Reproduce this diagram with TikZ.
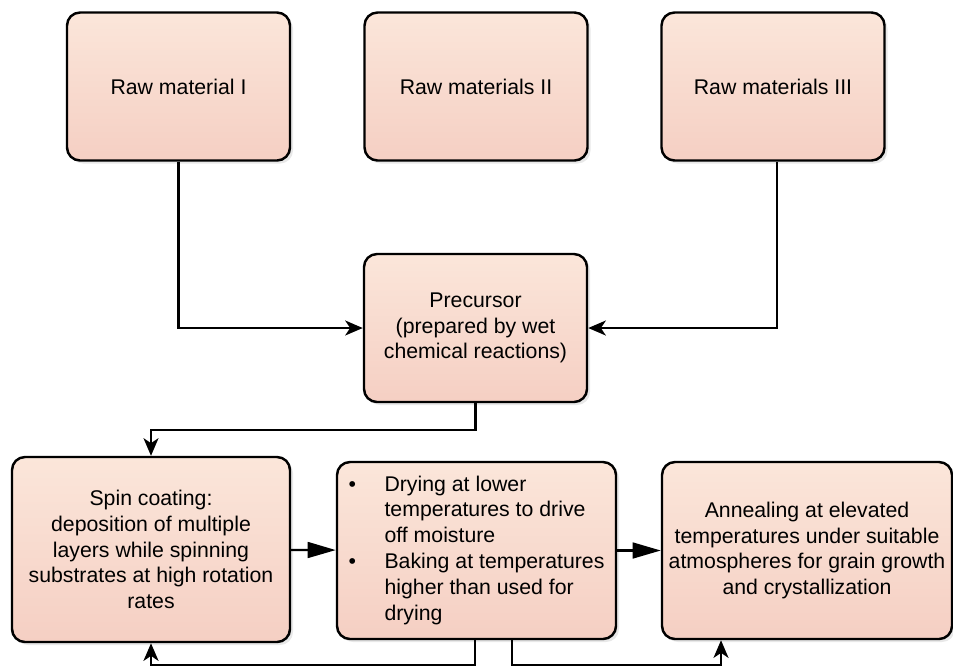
\documentclass[tikz,border=0pt]{standalone}
\usepackage{fontspec}
\setmainfont{Liberation Sans}
\usepackage{array}
\usetikzlibrary{arrows.meta,shadows}
\newcommand{\boxw}{4.46cm}
\newcommand{\boxh}{2.96cm}
\newcommand{\bullsep}{0.72cm}

\begin{document}
\begin{tikzpicture}
                %\draw[help lines] (0,-14) grid (20,0);
                \useasboundingbox (0,0) rectangle (19.06,-13.3);
                \tikzset{stepbox/.style = {draw=black, line width=1.4pt, rounded corners=0.26cm,
                                top color=boxtop, bottom color=boxbottom, align=center,
                                inner sep=2pt, font=\fontsize{12.1}{14.7}\selectfont,
                                drop shadow={shadow xshift=0.06cm, shadow yshift=-0.06cm, fill=black!18}},
                        link/.style = {draw=black, line width=1.3pt, -{Stealth[length=10pt,width=8.5pt,inset=2.8pt]}},
                        flow/.style = {draw=black, line width=1.3pt, -{Triangle[length=16pt,width=9pt]}}}
                \definecolor{boxtop}{HTML}{FBE6DA}
                \definecolor{boxbottom}{HTML}{F5CFC3}
                % raw materials
                \node[stepbox, minimum width=\boxw, minimum height=\boxh] (rawA) at (3.57,-1.73) {Raw material I};
                \node[stepbox, minimum width=\boxw, minimum height=\boxh] (rawB) at (9.52,-1.73) {Raw materials II};
                \node[stepbox, minimum width=\boxw, minimum height=\boxh] (rawC) at (15.46,-1.73) {Raw materials III};
                \node[stepbox, minimum width=\boxw, minimum height=\boxh] (prec) at (9.51,-6.56)
                        {Precursor\\(prepared by wet\\chemical reactions)};
                % processing steps
                \node[stepbox, minimum width=5.56cm, minimum height=3.7cm] (spin) at (3.02,-10.99)
                        {Spin coating:\\deposition of multiple\\layers while spinning\\substrates at high rotation\\rates};
                \node[stepbox, minimum width=5.58cm, minimum height=3.54cm] (dry) at (9.53,-11.01)
                        {\begin{tabular}{@{}p{\bullsep}@{}l@{}}
                        \textbullet & Drying at lower\\
                         & temperatures to drive\\
                         & off moisture\\
                        \textbullet & Baking at temperatures\\
                         & higher than used for\\
                         & drying
                        \end{tabular}};
                \node[stepbox, minimum width=5.8cm, minimum height=3.54cm] (ann) at (16.14,-11.01)
                        {Annealing at elevated\\temperatures under suitable\\atmospheres for grain growth\\and crystallization};
                % connectors
                \draw[link] (rawA.south) |- (prec.west);
                \draw[link] ([xshift=0.08cm]rawC.south) |- (prec.east);
                \draw[link] (prec.south) -- ++(0,-0.54) -| (spin.north);
                \draw[flow] (spin) -- (dry);
                \draw[flow] (dry) -- (ann);
                \draw[link] ([xshift=-0.03cm]dry.south) -- ++(0,-0.5) -| (spin.south);
                \draw[link] ([xshift=0.71cm]dry.south) -- ++(0,-0.5) -| ([xshift=-1.72cm]ann.south);
        \end{tikzpicture}
\end{document}
